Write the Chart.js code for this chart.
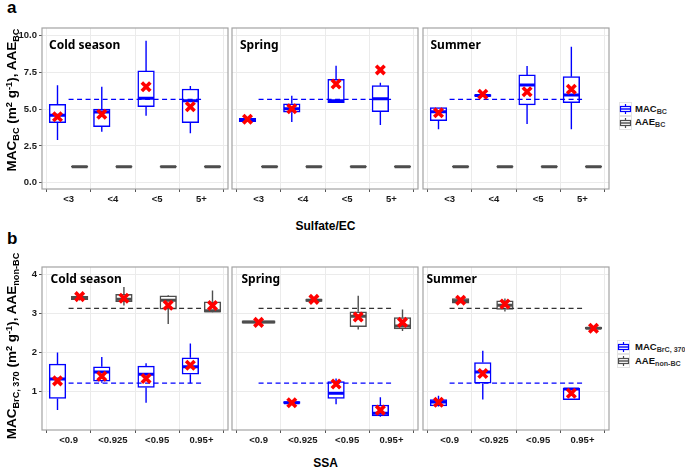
<!DOCTYPE html>
<html><head><meta charset="utf-8">
<script src="https://cdn.jsdelivr.net/npm/chart.js@4.4.1/dist/chart.umd.min.js"></script>
<style>
body{margin:0;background:#fff;width:685px;height:470px;position:relative;overflow:hidden;}
canvas{position:absolute;}
.lab{position:absolute;white-space:nowrap;font-family:"Liberation Sans",Arial,sans-serif;font-weight:bold;color:#000;line-height:1;}
.lab sub{vertical-align:baseline;position:relative;top:0.32em;font-size:0.68em;}
.lab sup{vertical-align:baseline;position:relative;top:-0.42em;font-size:0.68em;}
.yt{font-size:13.5px;transform:translate(-50%,-50%) rotate(-90deg);}
.xt{font-size:12px;transform:translate(-50%,-50%);}
.pl{font-size:17px;}
.fac{font-family:"Noto Sans",sans-serif;font-size:12px;}
.leg{font-size:9.5px;transform:translateY(-50%);color:#111;}
.leg sub{font-size:0.75em;top:0.3em;color:#333;}
svg{position:absolute;}
</style>
</head><body>
<canvas id="a0" width="229" height="184" style="left:0px;top:27px"></canvas>
<canvas id="a1" width="188" height="184" style="left:231px;top:27px"></canvas>
<canvas id="a2" width="188" height="184" style="left:422px;top:27px"></canvas>
<canvas id="b0" width="229" height="186" style="left:0px;top:266px"></canvas>
<canvas id="b1" width="188" height="186" style="left:231px;top:266px"></canvas>
<canvas id="b2" width="188" height="186" style="left:422px;top:266px"></canvas>

<div class="lab pl" style="left:7px;top:-1px">a</div>
<div class="lab pl" style="left:7px;top:229.6px">b</div>

<div class="lab fac" style="left:49px;top:38.6px">Cold season</div>
<div class="lab fac" style="left:240px;top:38.6px">Spring</div>
<div class="lab fac" style="left:430.5px;top:38.6px">Summer</div>
<div class="lab fac" style="left:50.5px;top:272.6px">Cold season</div>
<div class="lab fac" style="left:241.5px;top:272.6px">Spring</div>
<div class="lab fac" style="left:426.5px;top:272.6px">Summer</div>

<div class="lab yt" style="left:12px;top:100px">MAC<sub>BC</sub> (m<sup>2</sup> g<sup>-1</sup>), AAE<sub>BC</sub></div>
<div class="lab yt" style="left:12px;top:345.5px">MAC<sub>BrC, 370</sub> (m<sup>2</sup> g<sup>-1</sup>), AAE<sub>non-BC</sub></div>
<div class="lab xt" style="left:325.5px;top:226px">Sulfate/EC</div>
<div class="lab xt" style="left:325.5px;top:463px">SSA</div>

<svg width="13" height="28" style="left:618.5px;top:101.5px">
 <rect x="0.5" y="0.5" width="12" height="13" fill="#fff" stroke="#e3e3e3"/>
 <rect x="0.5" y="14.5" width="12" height="13" fill="#fff" stroke="#e3e3e3"/>
 <line x1="6.5" y1="2" x2="6.5" y2="12" stroke="#0000ff" stroke-width="1.2"/>
 <rect x="1.5" y="4.5" width="10" height="5" fill="#fff" stroke="#0000ff" stroke-width="1.2"/>
 <line x1="1.5" y1="7" x2="11.5" y2="7" stroke="#0000ff" stroke-width="1.4"/>
 <line x1="6.5" y1="16" x2="6.5" y2="26" stroke="#4d4d4d" stroke-width="1.2"/>
 <rect x="1.5" y="18.5" width="10" height="5" fill="#fff" stroke="#4d4d4d" stroke-width="1.2"/>
 <line x1="1.5" y1="21" x2="11.5" y2="21" stroke="#4d4d4d" stroke-width="1.4"/>
</svg>
<div class="lab leg" style="left:635px;top:108.5px">MAC<sub>BC</sub></div>
<div class="lab leg" style="left:635px;top:121.8px">AAE<sub>BC</sub></div>

<svg width="13" height="28" style="left:616.5px;top:340px">
 <rect x="0.5" y="0.5" width="12" height="13" fill="#fff" stroke="#e3e3e3"/>
 <rect x="0.5" y="14.5" width="12" height="13" fill="#fff" stroke="#e3e3e3"/>
 <line x1="6.5" y1="2" x2="6.5" y2="12" stroke="#0000ff" stroke-width="1.2"/>
 <rect x="1.5" y="4.5" width="10" height="5" fill="#fff" stroke="#0000ff" stroke-width="1.2"/>
 <line x1="1.5" y1="7" x2="11.5" y2="7" stroke="#0000ff" stroke-width="1.4"/>
 <line x1="6.5" y1="16" x2="6.5" y2="26" stroke="#4d4d4d" stroke-width="1.2"/>
 <rect x="1.5" y="18.5" width="10" height="5" fill="#fff" stroke="#4d4d4d" stroke-width="1.2"/>
 <line x1="1.5" y1="21" x2="11.5" y2="21" stroke="#4d4d4d" stroke-width="1.4"/>
</svg>
<div class="lab leg" style="left:635px;top:347px">MAC<sub>BrC, 370</sub></div>
<div class="lab leg" style="left:635px;top:360.5px">AAE<sub>non-BC</sub></div>

<script>
// ---------- DATA ----------
const catsA = ['<3', '<4', '<5', '5+'];
const catsB = ['<0.9', '<0.925', '<0.95', '0.95+'];
const seasons = ['Cold season', 'Spring', 'Summer'];
const yTicksA = [0, 2.5, 5, 7.5, 10];
const yTickLabelsA = ['0.0', '2.5', '5.0', '7.5', '10.0'];
const yTicksB = [1, 2, 3, 4];
const yTickLabelsB = ['1', '2', '3', '4'];

// each box: [lower whisker, Q1, median, Q3, upper whisker, mean]
const macBC_Cold   = [[2.90,4.08,4.59,5.33,6.63,4.49],[3.47,3.81,4.80,5.00,6.53,4.65],[4.56,5.17,5.74,7.60,9.66,6.53],[3.36,4.08,5.58,6.37,6.57,5.17]];
const macBC_Spring = [[4.15,4.15,4.27,4.38,4.38,4.31],[4.13,4.79,5.03,5.37,5.92,5.03],[5.44,5.44,5.58,7.03,7.96,6.71],[3.93,4.83,5.71,6.60,6.80,7.67]];
const macBC_Summer = [[3.63,4.22,4.83,5.10,5.10,4.76],[5.87,5.87,5.93,6.00,6.00,6.01],[3.99,5.29,6.65,7.33,7.94,6.19],[3.63,5.44,5.97,7.21,9.25,6.35]];
const aaeBC_Cold   = [[1.05,1.05,1.09,1.13,1.13,null],[1.05,1.05,1.09,1.13,1.13,null],[1.05,1.05,1.09,1.13,1.13,null],[1.05,1.05,1.09,1.13,1.13,null]];
const aaeBC_Spring = [[1.05,1.05,1.09,1.13,1.13,null],[1.05,1.05,1.09,1.13,1.13,null],[1.05,1.05,1.09,1.13,1.13,null],[1.05,1.05,1.09,1.13,1.13,null]];
const aaeBC_Summer = [[1.05,1.05,1.09,1.13,1.13,null],[1.05,1.05,1.09,1.13,1.13,null],[1.05,1.05,1.09,1.13,1.13,null],[1.05,1.05,1.09,1.13,1.13,null]];

const macBrC_Cold   = [[0.52,0.82,1.32,1.70,2.00,1.27],[1.22,1.26,1.50,1.63,1.88,1.39],[0.71,1.10,1.44,1.65,1.72,1.33],[1.21,1.44,1.63,1.86,2.23,1.67]];
const macBrC_Spring = [null,[0.69,0.69,0.71,0.74,0.74,0.71],[0.67,0.82,0.95,1.25,1.33,1.19],[0.35,0.37,0.44,0.65,0.85,0.52]];
const macBrC_Summer = [[0.61,0.63,0.73,0.79,0.89,0.72],[0.79,1.21,1.50,1.74,2.04,1.46],null,[0.79,0.79,1.06,1.08,1.08,0.95]];
const aaeNonBC_Cold   = [[3.33,3.35,3.38,3.44,3.46,3.43],[3.20,3.30,3.36,3.49,3.68,3.39],[2.73,3.11,3.34,3.45,3.47,3.21],[3.02,3.03,3.07,3.30,3.59,3.20]];
const aaeNonBC_Spring = [[2.75,2.75,2.78,2.81,2.81,2.77],[3.31,3.31,3.34,3.37,3.37,3.36],[2.59,2.66,2.93,3.04,3.45,2.91],[2.55,2.60,2.68,2.89,3.10,2.77]];
const aaeNonBC_Summer = [[3.26,3.26,3.32,3.38,3.38,3.34],[3.05,3.10,3.21,3.32,3.38,3.24],null,[2.59,2.60,2.62,2.64,2.65,2.62]];

const macBC_ref = 5.67;
const macBrC_ref = 1.21;
const aaeNonBC_ref = 3.13;

// ---------- STYLE / LAYOUT ----------
const BLUE = '#0000ff', GREY = '#4d4d4d', RED = '#ff0000';
const X_MIN = -0.6, X_MAX = 3.6, PANEL_W = 186;
const PX_PER_UNIT = PANEL_W / (X_MAX - X_MIN);
const OFF = 0.25, BOXW = 0.375;

const borderPlugin = {
  id: 'pborder',
  afterDraw(c) {
    const a = c.chartArea, ctx = c.ctx;
    ctx.save();
    ctx.strokeStyle = '#a3a3a3';
    ctx.lineWidth = 1.2;
    ctx.strokeRect(a.left, a.top, a.right - a.left, a.bottom - a.top);
    ctx.restore();
  }
};

function seriesDatasets(s, other, col, side, meanOn) {
  const boxN = [], boxW = [], wh = [], med = [], mean = [];
  s.forEach((v, i) => {
    if (!v) return;
    const wide = !(other && other[i]);
    const cx = i + (wide ? 0 : side * OFF);
    const hw = (wide ? 2 * BOXW : BOXW) / 2 - 0.01;
    const [lo, q1, md, q3, hi, mn] = v;
    (wide ? boxW : boxN).push({x: cx, y: [q1, q3]});
    if (lo < q1) wh.push({x: cx, y: lo}, {x: cx, y: q1}, {x: cx, y: null});
    if (hi > q3) wh.push({x: cx, y: q3}, {x: cx, y: hi}, {x: cx, y: null});
    med.push({x: cx - hw, y: md}, {x: cx + hw, y: md}, {x: cx, y: null});
    if (meanOn && mn != null) mean.push({x: cx, y: mn});
  });
  const ds = [];
  const barBase = {type: 'bar', backgroundColor: '#fff', borderColor: col, borderWidth: 1.5,
                   borderSkipped: false, grouped: false, order: 3};
  if (boxN.length) ds.push(Object.assign({}, barBase, {data: boxN, barThickness: BOXW * PX_PER_UNIT}));
  if (boxW.length) ds.push(Object.assign({}, barBase, {data: boxW, barThickness: 2 * BOXW * PX_PER_UNIT}));
  ds.push({type: 'line', data: wh, borderColor: col, borderWidth: 1.4, pointRadius: 0, spanGaps: false, order: 4});
  ds.push({type: 'line', data: med, borderColor: col, borderWidth: 3, pointRadius: 0, spanGaps: false, order: 2});
  if (mean.length) ds.push({type: 'scatter', data: mean, pointStyle: 'crossRot', pointRadius: 6,
                            borderColor: RED, backgroundColor: RED, borderWidth: 3.6, order: 0});
  return ds;
}

function refLine(v, col) {
  return {type: 'line', data: [{x: 0, y: v}, {x: 3, y: v}], borderColor: col, borderWidth: 1.3,
          borderDash: [5, 3.5], pointRadius: 0, order: 1};
}

function makePanel(id, cats, s1, s2, mean2, refs, yMin, yMax, yTicks, yLabels, first) {
  let datasets = [];
  datasets = datasets.concat(seriesDatasets(s1, s2, BLUE, -1, true));
  datasets = datasets.concat(seriesDatasets(s2, s1, GREY, 1, mean2));
  refs.forEach(r => datasets.push(refLine(r[0], r[1])));
  const tickFont = {family: 'Liberation Sans', weight: 'bold', size: 9.5};
  return new Chart(document.getElementById(id), {
    type: 'bar',
    data: {datasets},
    options: {
      responsive: false, animation: false, events: [],
      layout: {padding: {top: 1, right: 1, left: first ? 0 : 1, bottom: 0}, autoPadding: false},
      plugins: {legend: {display: false}, tooltip: {enabled: false}},
      scales: {
        x: {
          type: 'linear', min: X_MIN, max: X_MAX, offset: false,
          afterBuildTicks: s => { s.ticks = cats.map((c, i) => ({value: i})); },
          afterFit: s => { s.height = 22; s.paddingLeft = 0; s.paddingRight = 0; },
          ticks: {callback: (v, i) => cats[i], font: tickFont, color: '#1a1a1a', padding: 2,
                  autoSkip: false, maxRotation: 0, minRotation: 0},
          grid: {color: '#ebebeb', lineWidth: 1, drawTicks: true, tickLength: 3, tickColor: '#555', tickWidth: 1},
          border: {display: false}
        },
        y: {
          type: 'linear', min: yMin, max: yMax,
          afterBuildTicks: s => { s.ticks = yTicks.map(v => ({value: v})); },
          afterFit: s => { s.width = first ? 42 : 0; s.paddingTop = 0; s.paddingBottom = 0; },
          ticks: {display: first, callback: (v, i) => yLabels[i], font: tickFont, color: '#1a1a1a', padding: 2},
          grid: {color: '#ebebeb', lineWidth: 1, drawTicks: first, tickLength: 3, tickColor: '#555', tickWidth: 1},
          border: {display: false}
        }
      }
    },
    plugins: [borderPlugin]
  });
}

const A_MIN = -0.43, A_MAX = 10.52, B_MIN = 0.01, B_MAX = 4.19;
makePanel('a0', catsA, macBC_Cold,   aaeBC_Cold,   false, [[macBC_ref, BLUE]], A_MIN, A_MAX, yTicksA, yTickLabelsA, true);
makePanel('a1', catsA, macBC_Spring, aaeBC_Spring, false, [[macBC_ref, BLUE]], A_MIN, A_MAX, yTicksA, yTickLabelsA, false);
makePanel('a2', catsA, macBC_Summer, aaeBC_Summer, false, [[macBC_ref, BLUE]], A_MIN, A_MAX, yTicksA, yTickLabelsA, false);
makePanel('b0', catsB, macBrC_Cold,   aaeNonBC_Cold,   true, [[macBrC_ref, BLUE], [aaeNonBC_ref, '#333']], B_MIN, B_MAX, yTicksB, yTickLabelsB, true);
makePanel('b1', catsB, macBrC_Spring, aaeNonBC_Spring, true, [[macBrC_ref, BLUE], [aaeNonBC_ref, '#333']], B_MIN, B_MAX, yTicksB, yTickLabelsB, false);
makePanel('b2', catsB, macBrC_Summer, aaeNonBC_Summer, true, [[macBrC_ref, BLUE], [aaeNonBC_ref, '#333']], B_MIN, B_MAX, yTicksB, yTickLabelsB, false);
</script>
</body></html>
